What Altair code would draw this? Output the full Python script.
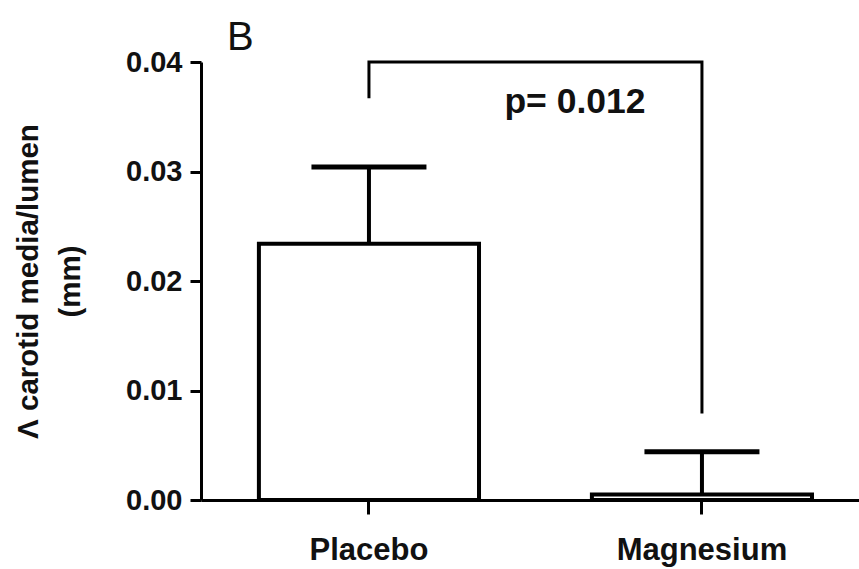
import altair as alt
import pandas as pd

groups = ["Placebo", "Magnesium"]
means = [0.0234, 0.0005]
upper = [0.0304, 0.0044]

bracket_x = ["Placebo", "Placebo", "Magnesium", "Magnesium"]
bracket_y = [0.0367, 0.0400, 0.0400, 0.0079]
bracket_order = [0, 1, 2, 3]

y_ticks = [0.0, 0.01, 0.02, 0.03, 0.04]
p_label = "p= 0.012"
p_y = 0.0353

FONT = "Liberation Sans"

bars_df = pd.DataFrame({"group": groups, "mean": means, "upper": upper})
br_df = pd.DataFrame({"group": bracket_x, "y": bracket_y, "o": bracket_order})
p_df = pd.DataFrame({"group": ["Magnesium"], "y": [p_y], "label": [p_label]})

xscale = alt.Scale(domain=groups, paddingInner=0.339, paddingOuter=0.1575, align=0.552)
yscale = alt.Scale(domain=[0, 0.04], nice=False)

xenc = alt.X("group:N", scale=xscale, sort=groups,
             axis=alt.Axis(title=None, labelAngle=0, labelFont=FONT, labelFontWeight="bold",
                           labelFontSize=31, labelColor="#111", labelPadding=21,
                           domainColor="black", domainWidth=3, tickColor="black",
                           tickWidth=3, tickSize=14))

base = alt.Chart(bars_df)

bars = base.mark_bar(fill="white", stroke="black", strokeWidth=4).encode(
    x=xenc,
    y=alt.Y("mean:Q", scale=yscale,
            axis=alt.Axis(values=y_ticks, format=".2f", grid=False,
                          title=["Λ carotid media/lumen", "(mm)"],
                          titleFont=FONT, titleFontWeight="bold", titleFontSize=29.5,
                          titleColor="#111", titleLineHeight=42, titlePadding=40,
                          labelFont=FONT, labelFontWeight="bold", labelFontSize=29,
                          labelColor="#111", labelPadding=8,
                          domainColor="black", domainWidth=3, tickColor="black",
                          tickWidth=3, tickSize=11)),
)

err = base.mark_rule(color="black", strokeWidth=4).encode(
    x=alt.X("group:N", scale=xscale, sort=groups), y="mean:Q", y2="upper:Q")

caps = base.mark_tick(color="black", opacity=1, thickness=5, size=115, orient="horizontal").encode(
    x=alt.X("group:N", scale=xscale, sort=groups), y=alt.Y("upper:Q", scale=yscale))

bracket = alt.Chart(br_df).mark_line(color="black", strokeWidth=3, strokeJoin="miter").encode(
    x=alt.X("group:N", scale=xscale, sort=groups),
    y=alt.Y("y:Q", scale=yscale), order="o:Q")

ptext = alt.Chart(p_df).mark_text(font=FONT, fontWeight="bold", fontSize=35.5, color="#111",
                                  align="center", baseline="alphabetic", dx=-127).encode(
    x=alt.X("group:N", scale=xscale, sort=groups), y=alt.Y("y:Q", scale=yscale), text="label:N")

chart = alt.layer(bars, err, caps, bracket, ptext).properties(
    width=658, height=438,
    title=alt.TitleParams("B", anchor="start", frame="group", dx=26, offset=12, dy=22,
                          font=FONT, fontSize=40, fontWeight="normal", color="#111"),
    padding={"left": 201, "top": 62, "right": 0, "bottom": 69},
    autosize=alt.AutoSizeParams(type="none"),
    background="white",
).configure_view(stroke=None)

chart.save("out.html", embed_options={"renderer": "svg", "actions": False})
